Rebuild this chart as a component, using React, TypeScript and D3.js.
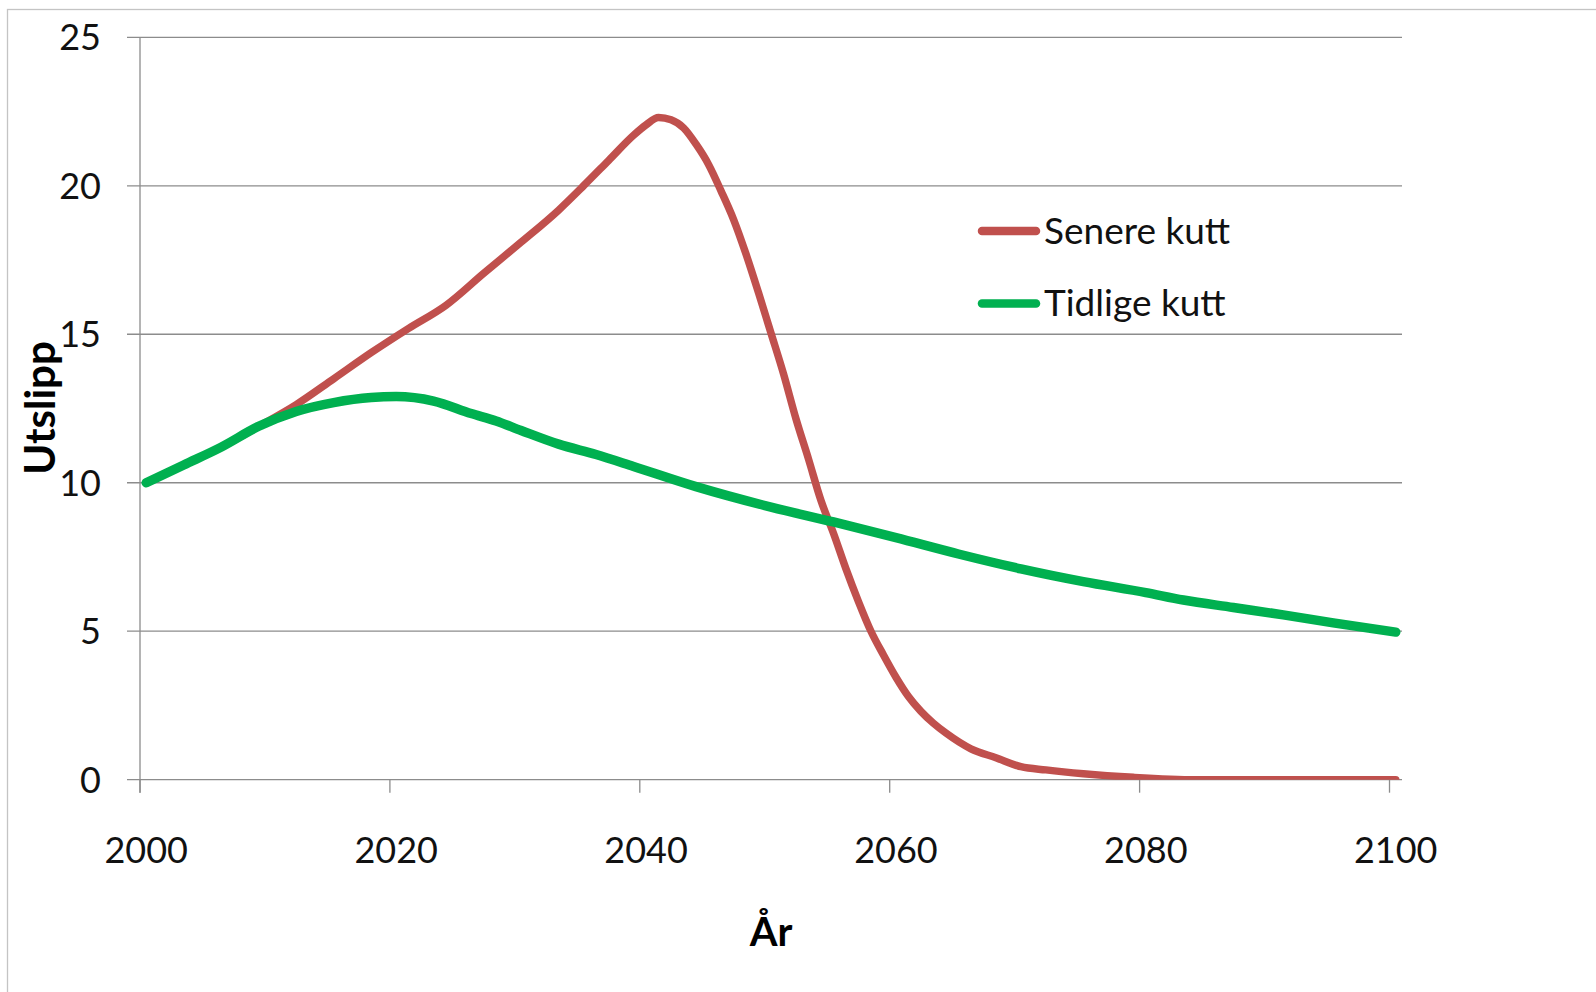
import React from "react";
import * as d3 from "d3";

// Senere kutt (late cuts)
const lateYears = [2000, 2003, 2006, 2009, 2012, 2015, 2018, 2021, 2024, 2027, 2030, 2033, 2035, 2037, 2039, 2040, 2041, 2042, 2043, 2044, 2045, 2046, 2047, 2048, 2049, 2050, 2051, 2052, 2053, 2054, 2055, 2056, 2057, 2058, 2059, 2060, 2061, 2062, 2063, 2064, 2066, 2068, 2070, 2072, 2075, 2079, 2084, 2090, 2100];
const lateValues = [10.0, 10.6, 11.2, 11.9, 12.63, 13.5, 14.38, 15.2, 15.98, 17.05, 18.1, 19.18, 20.0, 20.85, 21.7, 22.05, 22.3, 22.22, 21.95, 21.4, 20.72, 19.83, 18.87, 17.7, 16.4, 15.04, 13.67, 12.15, 10.8, 9.4, 8.3, 7.1, 6.0, 5.0, 4.2, 3.45, 2.8, 2.3, 1.9, 1.57, 1.04, 0.74, 0.44, 0.33, 0.2, 0.08, 0, 0, 0];

// Tidlige kutt (early cuts)
const earlyYears = [2000, 2003, 2006, 2009, 2012, 2015, 2018, 2020, 2023, 2026, 2028, 2030, 2033, 2036, 2039, 2044, 2050, 2055, 2060, 2065, 2070, 2075, 2080, 2083, 2087, 2091, 2095, 2100];
const earlyValues = [10.0, 10.6, 11.2, 11.9, 12.4, 12.7, 12.87, 12.9, 12.75, 12.33, 12.08, 11.76, 11.3, 10.95, 10.55, 9.87, 9.18, 8.68, 8.15, 7.6, 7.1, 6.67, 6.3, 6.05, 5.8, 5.55, 5.28, 4.97];

const yTicks = [0, 5, 10, 15, 20, 25];
const xTicks = [2000, 2020, 2040, 2060, 2080, 2100];

const seriesNames = ["Senere kutt", "Tidlige kutt"];
const colors = ["#C0504D", "#00B050"];

const FONT = "Lato, 'Open Sans', sans-serif";

export default function App() {
  const W = 1596;
  const H = 992;
  const left = 140;
  const right = 1402;
  const top = 37.3;
  const bottom = 779.7;

  // category axis: each year occupies one slot, points sit mid-slot
  const x = d3.scaleLinear().domain([2000, 2101]).range([left, right]);
  const y = d3.scaleLinear().domain([0, 25]).range([bottom, top]);

  const line = d3
    .line<[number, number]>()
    .x((d) => x(d[0] + 0.5))
    .y((d) => y(d[1]))
    .curve(d3.curveMonotoneX);

  const late = lateYears.map((yr, i) => [yr, lateValues[i]] as [number, number]);
  const early = earlyYears.map((yr, i) => [yr, earlyValues[i]] as [number, number]);

  const grid = "#8c8c8c";

  return (
    <svg
      width={W}
      height={H}
      style={{ position: "absolute", left: 0, top: 0, background: "#fff" }}
      fontFamily={FONT}
    >
      <defs>
        <clipPath id="plot">
          <rect x={left - 13} y={0} width={right - left + 13} height={bottom} />
        </clipPath>
      </defs>
      <rect x={7.5} y={9.5} width={3000} height={3000} fill="none" stroke="#c4c4c4" strokeWidth={1.3} />

      {/* gridlines */}
      {yTicks.map((v) => (
        <line key={v} x1={left - 13} x2={right} y1={y(v)} y2={y(v)} stroke={grid} strokeWidth={1.3} />
      ))}
      {/* y axis line */}
      <line x1={left} x2={left} y1={top} y2={bottom + 13} stroke={grid} strokeWidth={1.3} />
      {xTicks.map((t) => (
        <line key={t} x1={x(t)} x2={x(t)} y1={bottom} y2={bottom + 13} stroke={grid} strokeWidth={1.3} />
      ))}

      {/* tick labels */}
      {yTicks.map((v) => (
        <text key={v} x={101} y={y(v)} dy="0.36em" textAnchor="end" fontSize={36} fill="#111">
          {v}
        </text>
      ))}
      {xTicks.map((t) => (
        <text key={t} x={x(t + 0.5)} y={863} textAnchor="middle" fontSize={36} fill="#111">
          {t}
        </text>
      ))}

      {/* axis titles */}
      <text x={771} y={946} textAnchor="middle" fontSize={40} fontWeight="bold" fill="#000">
        År
      </text>
      <text
        transform="translate(55,408) rotate(-90)"
        textAnchor="middle"
        fontSize={42}
        fontWeight="bold"
        fill="#000"
      >
        Utslipp
      </text>

      {/* series */}
      <g clipPath="url(#plot)">
        <path d={line(late) || ""} fill="none" stroke={colors[0]} strokeWidth={7.5} strokeLinecap="round" strokeLinejoin="round" />
      </g>
      <path d={line(early) || ""} fill="none" stroke={colors[1]} strokeWidth={9.5} strokeLinecap="round" strokeLinejoin="round" />

      {/* legend */}
      {seriesNames.map((name, i) => (
        <g key={name} transform={`translate(0,${231 + i * 72.5})`}>
          <line x1={982} x2={1036} y1={0} y2={0} stroke={colors[i]} strokeWidth={8.5} strokeLinecap="round" />
          <text x={1044} y={12.5} fontSize={37} fill="#111">
            {name}
          </text>
        </g>
      ))}
    </svg>
  );
}
